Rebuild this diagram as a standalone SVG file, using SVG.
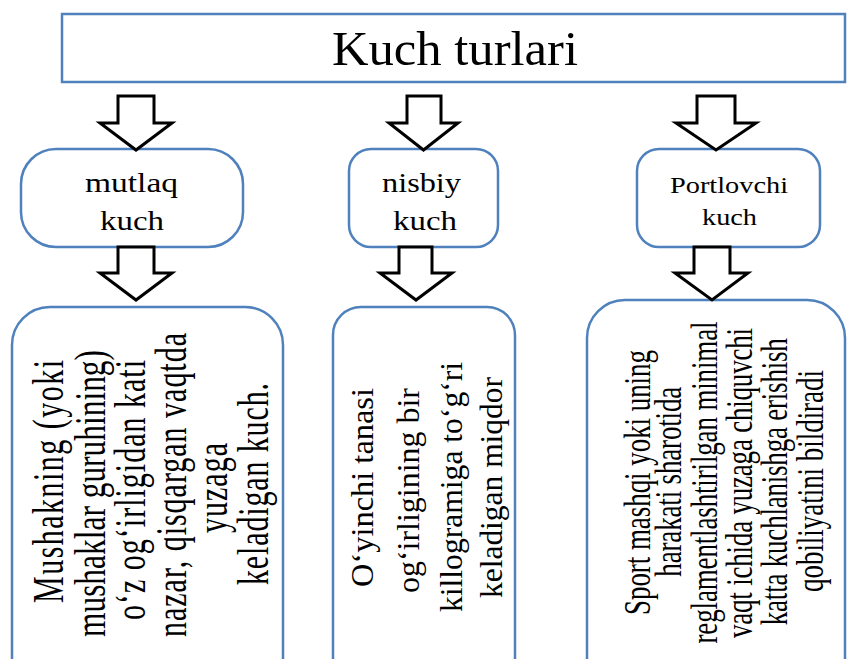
<svg xmlns="http://www.w3.org/2000/svg" width="848" height="659" viewBox="0 0 848 659">
<style>
.box{fill:#fff;stroke:#4F81BD;stroke-width:2.5}
.arr{fill:#fff;stroke:#000;stroke-width:3;stroke-linejoin:miter}
text{font-family:"Liberation Serif","Times New Roman",serif;fill:#000}
.t1{font-size:28px}
.t3{font-size:24px}
.b1{font-size:30px}
.b2{font-size:32px}
.b3{font-size:27px}
</style>
<rect width="848" height="659" fill="#fff"/>
<g id="title">
<rect class="box" x="62" y="14" width="783" height="68"/>
<text x="332" y="65" font-size="48" textLength="246" lengthAdjust="spacingAndGlyphs">Kuch turlari</text>
</g>
<g id="mutlaq">
<rect class="box" x="21" y="149" width="222" height="98" rx="35"/>
<text class="t1" x="85" y="192" textLength="93" lengthAdjust="spacingAndGlyphs">mutlaq</text>
<text class="t1" x="100" y="230" textLength="64" lengthAdjust="spacingAndGlyphs">kuch</text>
</g>
<g id="nisbiy">
<rect class="box" x="349" y="149" width="149" height="98" rx="22"/>
<text class="t1" x="382" y="192" textLength="79" lengthAdjust="spacingAndGlyphs">nisbiy</text>
<text class="t1" x="393" y="230" textLength="64" lengthAdjust="spacingAndGlyphs">kuch</text>
</g>
<g id="portlovchi">
<rect class="box" x="637" y="149" width="183" height="98" rx="22"/>
<text class="t3" x="670" y="193" textLength="118" lengthAdjust="spacingAndGlyphs">Portlovchi</text>
<text class="t3" x="702" y="225" textLength="55" lengthAdjust="spacingAndGlyphs">kuch</text>
</g>
<g id="mutlaq-def">
<rect class="box" x="12" y="307" width="271" height="400" rx="38"/>
<text class="b1" transform="translate(63,481.5) rotate(-90) scale(1,1.5)" x="-121.5" textLength="243" lengthAdjust="spacing">Mushakning (yoki</text>
<text class="b1" transform="translate(105,493.5) rotate(-90) scale(1,1.5)" x="-143.5" textLength="287" lengthAdjust="spacingAndGlyphs">mushaklar guruhining)</text>
<text class="b1" transform="translate(145,490) rotate(-90) scale(1,1.5)" x="-130" textLength="260" lengthAdjust="spacing">o‘z og‘irligidan kati</text>
<text class="b1" transform="translate(186,485) rotate(-90) scale(1,1.5)" x="-152" textLength="304" lengthAdjust="spacing">nazar, qisqargan vaqtda</text>
<text class="b1" transform="translate(227,488) rotate(-90) scale(1,1.5)" x="-45" textLength="90" lengthAdjust="spacing">yuzaga</text>
<text class="b1" transform="translate(268,484) rotate(-90) scale(1,1.5)" x="-101" textLength="202" lengthAdjust="spacing">keladigan kuch.</text>
</g>
<g id="nisbiy-def">
<rect class="box" x="333" y="307" width="182" height="400" rx="28"/>
<text class="b2" transform="translate(373,487.5) rotate(-90)" x="-99.5" textLength="199" lengthAdjust="spacingAndGlyphs">O‘yinchi tanasi</text>
<text class="b2" transform="translate(419,490.5) rotate(-90)" x="-102.5" textLength="205" lengthAdjust="spacingAndGlyphs">og‘irligining bir</text>
<text class="b2" transform="translate(462,487) rotate(-90)" x="-125" textLength="250" lengthAdjust="spacingAndGlyphs">killogramiga to‘g‘ri</text>
<text class="b2" transform="translate(502,487.5) rotate(-90)" x="-110.5" textLength="221" lengthAdjust="spacingAndGlyphs">keladigan miqdor</text>
</g>
<g id="portlovchi-def">
<rect class="box" x="587" y="300" width="258" height="400" rx="38"/>
<text class="b3" transform="translate(650,482.5) rotate(-90) scale(1,1.4)" x="-132.5" textLength="265" lengthAdjust="spacing">Sport mashqi yoki uning</text>
<text class="b3" transform="translate(681,481.7) rotate(-90) scale(1,1.4)" x="-95" textLength="190" lengthAdjust="spacing">harakati sharotida</text>
<text class="b3" transform="translate(717,482.5) rotate(-90) scale(1,1.4)" x="-161" textLength="322" lengthAdjust="spacing">reglamentlashtirilgan minimal</text>
<text class="b3" transform="translate(752,483) rotate(-90) scale(1,1.4)" x="-155" textLength="310" lengthAdjust="spacing">vaqt ichida yuzaga chiquvchi</text>
<text class="b3" transform="translate(787,481.7) rotate(-90) scale(1,1.4)" x="-143.5" textLength="287" lengthAdjust="spacing">katta kuchlanishga erishish</text>
<text class="b3" transform="translate(823,481) rotate(-90) scale(1,1.4)" x="-111" textLength="222" lengthAdjust="spacing">qobiliyatini bildiradi</text>
</g>
<g id="connectors">
<polygon class="arr" points="118,96 154,96 154,123 172,123 136,150 100,123 118,123"/>
<polygon class="arr" points="407,96 441,96 441,123 458,123 423.5,150 389,123 407,123"/>
<polygon class="arr" points="697,96 735,96 735,123 756,123 716,150 676,123 697,123"/>
<polygon class="arr" points="118,247 154,247 154,273 172,273 136,300 100,273 118,273"/>
<polygon class="arr" points="399,247 432,247 432,273 452,273 416,300 380,273 399,273"/>
<polygon class="arr" points="694,247 730,247 730,273 748,273 712,300 675,273 694,273"/>
</g>
</svg>
